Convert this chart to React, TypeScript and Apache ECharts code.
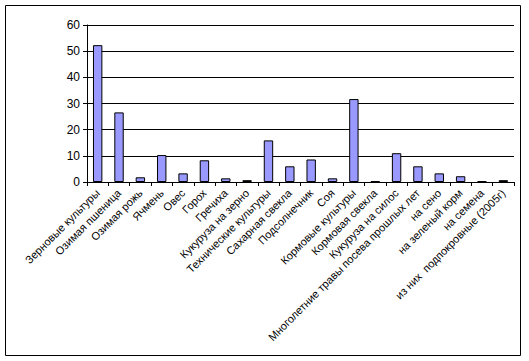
import React, { useEffect, useRef } from "react";
import * as echarts from "echarts";

const categories = [
  "Зерновые культуры",
  "Озимая пшеница",
  "Озимая рожь",
  "Ячмень",
  "Овес",
  "Горох",
  "Гречиха",
  "Кукуруза на зерно",
  "Технические культуры",
  "Сахарная свекла",
  "Подсолнечник",
  "Соя",
  "Кормовые культуры",
  "Кормовая свекла",
  "Кукуруза на силос",
  "Многолетние травы посева прошлых лет",
  "на сено",
  "на зеленый корм",
  "на семена",
  "из них  подпокровные (2005г)",
];
const values = [52.3, 26.6, 1.8, 10.3, 3.3, 8.3, 1.4, 0.7, 15.9, 6.0, 8.6, 1.4, 31.7, 0.3, 11.0, 6.0, 3.3, 2.2, 0.3, 0.7];

export default function App() {
  const ref = useRef<HTMLDivElement>(null);
  useEffect(() => {
    document.body.style.margin = "0";
    const chart = echarts.init(ref.current!, null, { renderer: "svg" });
    chart.setOption({
      animation: false,
      backgroundColor: "#ffffff",
      textStyle: { fontFamily: "Liberation Sans, Arial, sans-serif" },
      graphic: [
        {
          type: "rect",
          shape: { x: 5.5, y: 5.5, width: 515, height: 350 },
          style: { fill: "none", stroke: "#000", lineWidth: 1 },
          silent: true,
        },
      ],
      grid: { left: 87, right: 15, top: 25, bottom: 179, containLabel: false },
      xAxis: {
        type: "category",
        data: categories,
        boundaryGap: true,
        axisLine: { lineStyle: { color: "#000", width: 1 } },
        axisTick: { show: true, inside: false, length: 4, alignWithLabel: false, lineStyle: { color: "#000" } },
        axisLabel: {
          interval: 0,
          rotate: 45,
          fontSize: 11,
          color: "#000",
          margin: 9,
          fontFamily: "Liberation Sans, Arial, sans-serif",
        },
      },
      yAxis: {
        type: "value",
        min: 0,
        max: 60,
        interval: 10,
        axisLine: { show: true, lineStyle: { color: "#000", width: 1 } },
        axisTick: { show: true, length: 4, lineStyle: { color: "#000" } },
        axisLabel: { fontSize: 12, color: "#000", margin: 7, fontFamily: "Liberation Sans, Arial, sans-serif" },
        splitLine: { show: true, lineStyle: { color: "#000", width: 1 } },
      },
      series: [
        {
          type: "bar",
          data: values,
          barWidth: "44%",
          itemStyle: { color: "#9999ff", borderColor: "#000", borderWidth: 1 },
        },
      ],
    });
    return () => chart.dispose();
  }, []);
  return <div ref={ref} style={{ position: "absolute", left: 0, top: 0, width: 529, height: 361 }} />;
}
